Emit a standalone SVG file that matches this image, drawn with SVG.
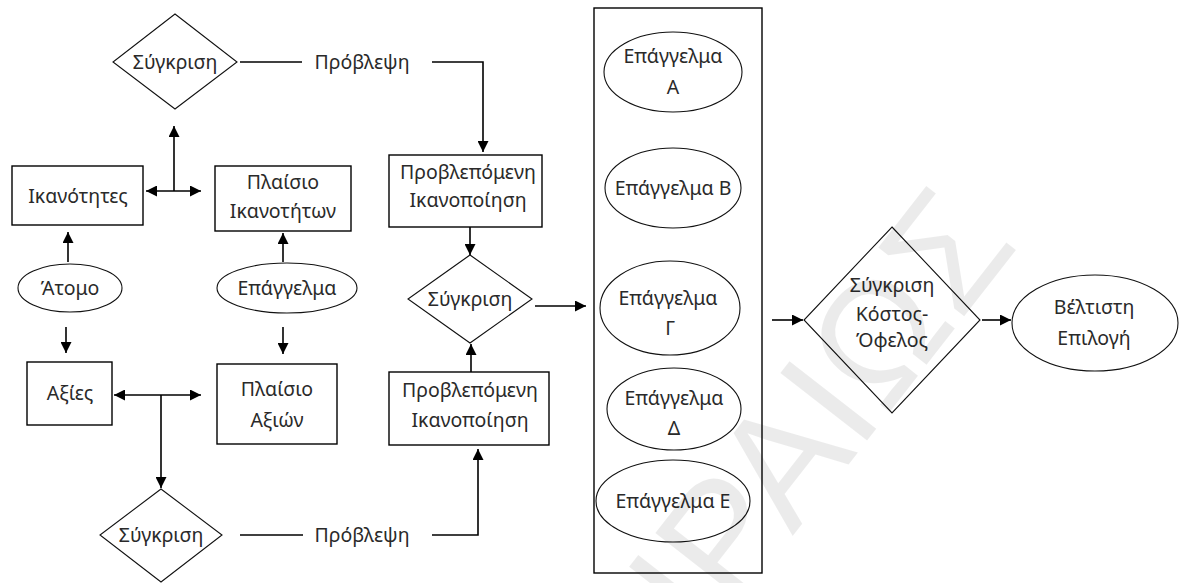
<svg xmlns="http://www.w3.org/2000/svg" width="1186" height="583" viewBox="0 0 1186 583">
  <defs>
    <marker id="ah" viewBox="0 0 10 10" refX="10" refY="5" markerWidth="11" markerHeight="11" markerUnits="userSpaceOnUse" orient="auto-start-reverse">
      <path d="M0,0 L10,5 L0,10 z" fill="#000"/>
    </marker>
  </defs>
  <style>
    .box { fill: none; stroke: #000; stroke-width: 1.4; }
    .shape { fill: none; stroke: #111; stroke-width: 1.1; }
    .ln { fill: none; stroke: #000; stroke-width: 1.6; }
    .arr { fill: none; stroke: #000; stroke-width: 1.6; marker-end: url(#ah); }
    .arr2 { fill: none; stroke: #000; stroke-width: 1.6; marker-start: url(#ah); marker-end: url(#ah); }
    .t { font-family: "Noto Sans", "Open Sans", sans-serif; font-size: 19.5px; fill: #2a2a2a; text-anchor: middle; }
    .wm { font-family: "Liberation Sans", "DejaVu Sans", sans-serif; font-size: 160px; fill: #000; fill-opacity: 0.08; }
  </style>
  <rect width="1186" height="583" fill="#fff"/>

  <!-- connectors -->
  <g id="connectors">
    <line class="ln" x1="240" y1="62" x2="302" y2="62"/>
    <polyline class="arr" points="432,62 483,62 483,152"/>
    <line class="arr" x1="174" y1="191" x2="174" y2="126"/>
    <line class="arr2" x1="146" y1="191" x2="201" y2="191"/>
    <line class="arr" x1="68" y1="262" x2="68" y2="232"/>
    <line class="arr" x1="66" y1="327" x2="66" y2="353"/>
    <line class="arr" x1="283" y1="262" x2="283" y2="233"/>
    <line class="arr" x1="283" y1="327" x2="283" y2="354"/>
    <line class="arr2" x1="114" y1="395" x2="201" y2="395"/>
    <line class="arr" x1="161" y1="395" x2="161" y2="488"/>
    <line class="ln" x1="240" y1="535" x2="303" y2="535"/>
    <polyline class="arr" points="432,535 478,535 478,449"/>
    <line class="arr" x1="470" y1="227" x2="470" y2="255"/>
    <line class="arr" x1="471" y1="372" x2="471" y2="344"/>
    <line class="arr" x1="535" y1="306" x2="586" y2="306"/>
    <line class="arr" x1="772" y1="320" x2="803" y2="320"/>
    <line class="arr" x1="982" y1="320" x2="1011" y2="320"/>
  </g>

  <!-- left comparison, top -->
  <g id="cmp-top">
    <polygon class="shape" points="175,14 237,62 175,109 113,62"/>
    <text class="t" x="175" y="69">Σύγκριση</text>
  </g>
  <g id="pred-top">
    <text class="t" x="362" y="69">Πρόβλεψη</text>
  </g>
  <g id="skills">
    <rect class="box" x="12" y="166" width="131" height="59"/>
    <text class="t" x="78" y="203">Ικανότητες</text>
  </g>
  <g id="skills-frame">
    <rect class="box" x="215" y="166" width="136" height="65"/>
    <text class="t" x="283" y="189">Πλαίσιο</text>
    <text class="t" x="283" y="218">Ικανοτήτων</text>
  </g>
  <g id="person">
    <ellipse class="shape" cx="70" cy="288" rx="52" ry="24"/>
    <text class="t" x="70" y="295">Άτομο</text>
  </g>
  <g id="job">
    <ellipse class="shape" cx="287" cy="288" rx="70" ry="25"/>
    <text class="t" x="287" y="295">Επάγγελμα</text>
  </g>
  <g id="values">
    <rect class="box" x="27" y="362" width="85" height="63"/>
    <text class="t" x="70" y="400">Αξίες</text>
  </g>
  <g id="values-frame">
    <rect class="box" x="217" y="364" width="120" height="80"/>
    <text class="t" x="277" y="396">Πλαίσιο</text>
    <text class="t" x="277" y="427">Αξιών</text>
  </g>
  <g id="cmp-bottom">
    <polygon class="shape" points="161,489 222,535 161,582 100,535"/>
    <text class="t" x="161" y="542">Σύγκριση</text>
  </g>
  <g id="pred-bottom">
    <text class="t" x="362" y="542">Πρόβλεψη</text>
  </g>

  <!-- expected satisfaction and middle comparison -->
  <g id="expected-top">
    <rect class="box" x="389" y="155" width="153" height="72"/>
    <text class="t" x="468" y="179">Προβλεπόμενη</text>
    <text class="t" x="468" y="207">Ικανοποίηση</text>
  </g>
  <g id="cmp-mid">
    <polygon class="shape" points="470,255 532,299 470,343 408,299"/>
    <text class="t" x="470" y="306">Σύγκριση</text>
  </g>
  <g id="expected-bottom">
    <rect class="box" x="389" y="372" width="160" height="73"/>
    <text class="t" x="470" y="397">Προβλεπόμενη</text>
    <text class="t" x="470" y="427">Ικανοποίηση</text>
  </g>

  <!-- job options -->
  <g id="jobs">
    <rect class="box" x="594" y="8" width="168" height="565"/>
  </g>
  <g id="job-a">
    <ellipse class="shape" cx="673" cy="72" rx="69" ry="40"/>
    <text class="t" x="673" y="63">Επάγγελμα</text>
    <text class="t" x="673" y="94">Α</text>
  </g>
  <g id="job-b">
    <ellipse class="shape" cx="673" cy="188" rx="68" ry="40"/>
    <text class="t" x="673" y="195">Επάγγελμα  Β</text>
  </g>
  <g id="job-c">
    <ellipse class="shape" cx="670" cy="308" rx="70" ry="47"/>
    <text class="t" x="668" y="305">Επάγγελμα</text>
    <text class="t" x="670" y="335">Γ</text>
  </g>
  <g id="job-d">
    <ellipse class="shape" cx="674" cy="409" rx="67" ry="41"/>
    <text class="t" x="674" y="405">Επάγγελμα</text>
    <text class="t" x="674" y="435">Δ</text>
  </g>
  <g id="job-e">
    <ellipse class="shape" cx="673" cy="501" rx="77" ry="41"/>
    <text class="t" x="673" y="508">Επάγγελμα  Ε</text>
  </g>

  <!-- final stage -->
  <g id="cost-benefit">
    <polygon class="shape" points="892,227 980,320 892,413 804,320"/>
    <text class="t" x="892" y="292">Σύγκριση</text>
    <text class="t" x="892" y="321">Κόστος-</text>
    <text class="t" x="892" y="347">Όφελος</text>
  </g>
  <g id="best">
    <ellipse class="shape" cx="1095" cy="323" rx="83" ry="48"/>
    <text class="t" x="1094" y="314">Βέλτιστη</text>
    <text class="t" x="1094" y="345">Επιλογή</text>
  </g>

  <text class="wm" transform="translate(1020,245) rotate(-52)" text-anchor="end">ΠΕΙΡΑΙΩΣ</text>
</svg>
